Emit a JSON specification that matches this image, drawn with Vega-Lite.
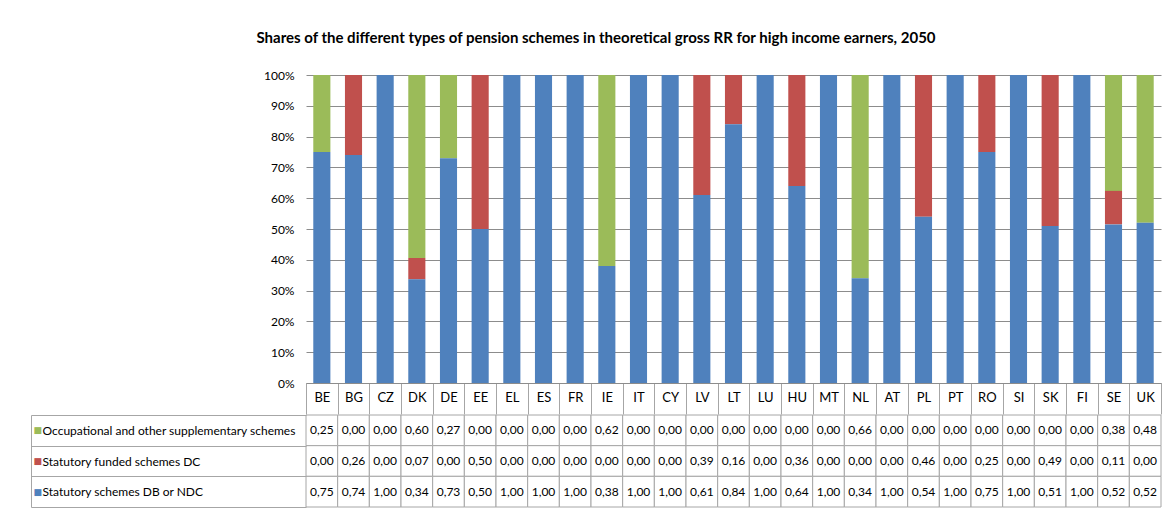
{
  "$schema": "https://vega.github.io/schema/vega-lite/v6.json",
  "padding": {"left": 30, "top": 31, "right": 0, "bottom": 0},
  "title": {"text": "Shares of the different types of pension schemes in theoretical gross RR for high income earners, 2050", "fontSize": 15, "fontWeight": "bold", "color": "#000000", "offset": 23, "anchor": "middle", "font": "Lato"},
  "datasets": {
    "pension": [
      {"country": "BE", "series": "Occupational and other supplementary schemes", "value": 0.25},
      {"country": "BG", "series": "Occupational and other supplementary schemes", "value": 0.0},
      {"country": "CZ", "series": "Occupational and other supplementary schemes", "value": 0.0},
      {"country": "DK", "series": "Occupational and other supplementary schemes", "value": 0.60},
      {"country": "DE", "series": "Occupational and other supplementary schemes", "value": 0.27},
      {"country": "EE", "series": "Occupational and other supplementary schemes", "value": 0.0},
      {"country": "EL", "series": "Occupational and other supplementary schemes", "value": 0.0},
      {"country": "ES", "series": "Occupational and other supplementary schemes", "value": 0.0},
      {"country": "FR", "series": "Occupational and other supplementary schemes", "value": 0.0},
      {"country": "IE", "series": "Occupational and other supplementary schemes", "value": 0.62},
      {"country": "IT", "series": "Occupational and other supplementary schemes", "value": 0.0},
      {"country": "CY", "series": "Occupational and other supplementary schemes", "value": 0.0},
      {"country": "LV", "series": "Occupational and other supplementary schemes", "value": 0.0},
      {"country": "LT", "series": "Occupational and other supplementary schemes", "value": 0.0},
      {"country": "LU", "series": "Occupational and other supplementary schemes", "value": 0.0},
      {"country": "HU", "series": "Occupational and other supplementary schemes", "value": 0.0},
      {"country": "MT", "series": "Occupational and other supplementary schemes", "value": 0.0},
      {"country": "NL", "series": "Occupational and other supplementary schemes", "value": 0.66},
      {"country": "AT", "series": "Occupational and other supplementary schemes", "value": 0.0},
      {"country": "PL", "series": "Occupational and other supplementary schemes", "value": 0.0},
      {"country": "PT", "series": "Occupational and other supplementary schemes", "value": 0.0},
      {"country": "RO", "series": "Occupational and other supplementary schemes", "value": 0.0},
      {"country": "SI", "series": "Occupational and other supplementary schemes", "value": 0.0},
      {"country": "SK", "series": "Occupational and other supplementary schemes", "value": 0.0},
      {"country": "FI", "series": "Occupational and other supplementary schemes", "value": 0.0},
      {"country": "SE", "series": "Occupational and other supplementary schemes", "value": 0.38},
      {"country": "UK", "series": "Occupational and other supplementary schemes", "value": 0.48},
      {"country": "BE", "series": "Statutory funded schemes DC", "value": 0.0},
      {"country": "BG", "series": "Statutory funded schemes DC", "value": 0.26},
      {"country": "CZ", "series": "Statutory funded schemes DC", "value": 0.0},
      {"country": "DK", "series": "Statutory funded schemes DC", "value": 0.07},
      {"country": "DE", "series": "Statutory funded schemes DC", "value": 0.0},
      {"country": "EE", "series": "Statutory funded schemes DC", "value": 0.50},
      {"country": "EL", "series": "Statutory funded schemes DC", "value": 0.0},
      {"country": "ES", "series": "Statutory funded schemes DC", "value": 0.0},
      {"country": "FR", "series": "Statutory funded schemes DC", "value": 0.0},
      {"country": "IE", "series": "Statutory funded schemes DC", "value": 0.0},
      {"country": "IT", "series": "Statutory funded schemes DC", "value": 0.0},
      {"country": "CY", "series": "Statutory funded schemes DC", "value": 0.0},
      {"country": "LV", "series": "Statutory funded schemes DC", "value": 0.39},
      {"country": "LT", "series": "Statutory funded schemes DC", "value": 0.16},
      {"country": "LU", "series": "Statutory funded schemes DC", "value": 0.0},
      {"country": "HU", "series": "Statutory funded schemes DC", "value": 0.36},
      {"country": "MT", "series": "Statutory funded schemes DC", "value": 0.0},
      {"country": "NL", "series": "Statutory funded schemes DC", "value": 0.0},
      {"country": "AT", "series": "Statutory funded schemes DC", "value": 0.0},
      {"country": "PL", "series": "Statutory funded schemes DC", "value": 0.46},
      {"country": "PT", "series": "Statutory funded schemes DC", "value": 0.0},
      {"country": "RO", "series": "Statutory funded schemes DC", "value": 0.25},
      {"country": "SI", "series": "Statutory funded schemes DC", "value": 0.0},
      {"country": "SK", "series": "Statutory funded schemes DC", "value": 0.49},
      {"country": "FI", "series": "Statutory funded schemes DC", "value": 0.0},
      {"country": "SE", "series": "Statutory funded schemes DC", "value": 0.11},
      {"country": "UK", "series": "Statutory funded schemes DC", "value": 0.0},
      {"country": "BE", "series": "Statutory schemes DB or NDC", "value": 0.75},
      {"country": "BG", "series": "Statutory schemes DB or NDC", "value": 0.74},
      {"country": "CZ", "series": "Statutory schemes DB or NDC", "value": 1.0},
      {"country": "DK", "series": "Statutory schemes DB or NDC", "value": 0.34},
      {"country": "DE", "series": "Statutory schemes DB or NDC", "value": 0.73},
      {"country": "EE", "series": "Statutory schemes DB or NDC", "value": 0.50},
      {"country": "EL", "series": "Statutory schemes DB or NDC", "value": 1.0},
      {"country": "ES", "series": "Statutory schemes DB or NDC", "value": 1.0},
      {"country": "FR", "series": "Statutory schemes DB or NDC", "value": 1.0},
      {"country": "IE", "series": "Statutory schemes DB or NDC", "value": 0.38},
      {"country": "IT", "series": "Statutory schemes DB or NDC", "value": 1.0},
      {"country": "CY", "series": "Statutory schemes DB or NDC", "value": 1.0},
      {"country": "LV", "series": "Statutory schemes DB or NDC", "value": 0.61},
      {"country": "LT", "series": "Statutory schemes DB or NDC", "value": 0.84},
      {"country": "LU", "series": "Statutory schemes DB or NDC", "value": 1.0},
      {"country": "HU", "series": "Statutory schemes DB or NDC", "value": 0.64},
      {"country": "MT", "series": "Statutory schemes DB or NDC", "value": 1.0},
      {"country": "NL", "series": "Statutory schemes DB or NDC", "value": 0.34},
      {"country": "AT", "series": "Statutory schemes DB or NDC", "value": 1.0},
      {"country": "PL", "series": "Statutory schemes DB or NDC", "value": 0.54},
      {"country": "PT", "series": "Statutory schemes DB or NDC", "value": 1.0},
      {"country": "RO", "series": "Statutory schemes DB or NDC", "value": 0.75},
      {"country": "SI", "series": "Statutory schemes DB or NDC", "value": 1.0},
      {"country": "SK", "series": "Statutory schemes DB or NDC", "value": 0.51},
      {"country": "FI", "series": "Statutory schemes DB or NDC", "value": 1.0},
      {"country": "SE", "series": "Statutory schemes DB or NDC", "value": 0.52},
      {"country": "UK", "series": "Statutory schemes DB or NDC", "value": 0.52}
    ]
  },
  "data": {"name": "pension"},
  "spacing": -7,
  "resolve": {"scale": {"x": "independent", "y": "independent", "color": "independent"}},
  "vconcat": [
    {
      "width": 855,
      "height": 308,
      "mark": {"type": "bar", "width": {"band": 0.54}},
      "encoding": {
        "x": {
          "field": "country", "type": "nominal",
          "scale": {"domain": ["BE","BG","CZ","DK","DE","EE","EL","ES","FR","IE","IT","CY","LV","LT","LU","HU","MT","NL","AT","PL","PT","RO","SI","SK","FI","SE","UK"], "paddingInner": 0, "paddingOuter": 0},
          "axis": {"title": null, "domain": true, "domainColor": "#8c8c8c", "ticks": true, "tickBand": "extent", "tickSize": 31, "tickColor": "#a6a6a6", "labelAngle": 0, "labelFontSize": 13, "labelPadding": -23, "labelColor": "#000000"}
        },
        "y": {
          "field": "value", "type": "quantitative", "stack": "normalize",
          "axis": {"title": null, "format": ".0%", "values": [0, 0.1, 0.2, 0.3, 0.4, 0.5, 0.6, 0.7, 0.8, 0.9, 1], "domain": false, "ticks": false, "labelPadding": 12, "grid": true, "gridColor": "#8c8c8c", "labelFontSize": 12, "labelColor": "#000000"}
        },
        "color": {
          "field": "series", "type": "nominal",
          "scale": {"domain": ["Occupational and other supplementary schemes", "Statutory funded schemes DC", "Statutory schemes DB or NDC"], "range": ["#9BBB59", "#C0504D", "#4F81BD"]},
          "legend": null
        },
        "order": {"field": "series", "sort": "descending"}
      }
    },
    {
      "width": 855,
      "height": 92,
      "resolve": {"axis": {"y": "independent"}},
      "layer": [
        {
          "mark": {"type": "rect", "fill": "#ffffff", "stroke": "#a6a6a6", "strokeWidth": 1},
          "encoding": {
            "x": {"field": "country", "type": "nominal", "scale": {"domain": ["BE","BG","CZ","DK","DE","EE","EL","ES","FR","IE","IT","CY","LV","LT","LU","HU","MT","NL","AT","PL","PT","RO","SI","SK","FI","SE","UK"], "paddingInner": 0, "paddingOuter": 0}, "axis": null},
            "y": {
              "field": "series", "type": "nominal",
              "scale": {"paddingInner": 0, "paddingOuter": 0},
              "axis": {"orient": "left", "title": null, "domain": false, "ticks": true, "tickBand": "extent", "tickSize": 275, "tickColor": "#a6a6a6", "labelAlign": "left", "labelPadding": -11, "labelFontSize": 12, "labelLimit": 300, "labelColor": "#000000"}
            }
          }
        },
        {
          "mark": {"type": "text", "fontSize": 12, "color": "#000000"},
          "encoding": {
            "x": {"field": "country", "type": "nominal", "axis": null},
            "y": {
              "field": "series", "type": "nominal",
              "axis": {"orient": "left", "title": null, "offset": 275, "domain": true, "domainColor": "#a6a6a6", "ticks": false, "labelExpr": "'■'", "labelFont": "DejaVu Sans", "labelAlign": "left", "labelPadding": -2, "labelFontSize": 9,
                "labelColor": {"condition": [{"test": "datum.value == 'Occupational and other supplementary schemes'", "value": "#9BBB59"}, {"test": "datum.value == 'Statutory funded schemes DC'", "value": "#C0504D"}], "value": "#4F81BD"}}
            },
            "text": {"field": "value", "type": "quantitative", "format": ".2f"}
          }
        }
      ]
    }
  ],
  "config": {
    "view": {"stroke": null},
    "font": "Lato",
    "locale": {"number": {"decimal": ",", "thousands": ".", "grouping": [3], "currency": ["", " €"]}}
  }
}
